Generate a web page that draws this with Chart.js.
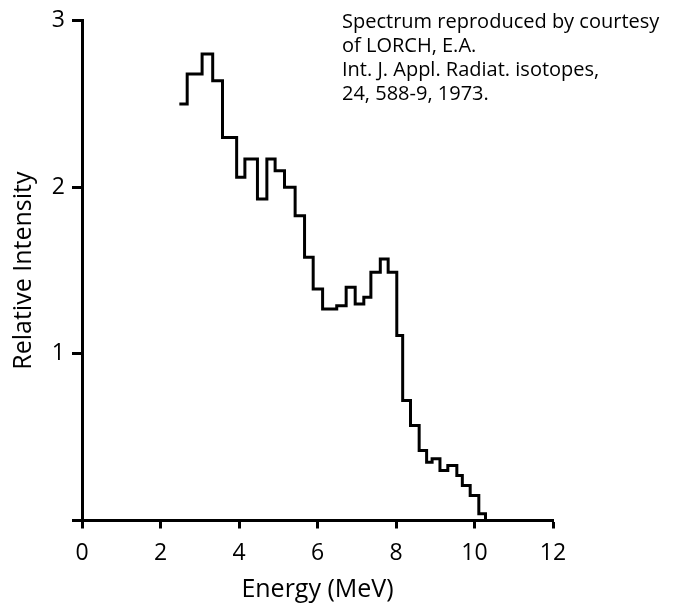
<!DOCTYPE html>
<html>
<head>
<meta charset="utf-8">
<script src="https://cdn.jsdelivr.net/npm/chart.js@4/dist/chart.umd.min.js"></script>
<style>
  body { margin: 0; background: #fff; }
  #wrap { width: 673px; height: 605px; }
</style>
</head>
<body>
<div id="wrap"><canvas id="spectrumChart" width="673" height="605"></canvas></div>
<script>
// bin edges (MeV) and relative intensity of each bin
const energyEdges = [2.48, 2.68, 3.06, 3.33, 3.58, 3.94, 4.15, 4.47, 4.71, 4.92,
                     5.16, 5.43, 5.67, 5.89, 6.13, 6.49, 6.73, 6.96, 7.18, 7.36,
                     7.60, 7.80, 8.02, 8.17, 8.37, 8.59, 8.78, 8.92, 9.12, 9.32,
                     9.55, 9.69, 9.89, 10.11, 10.28];
const intensity = [2.50, 2.68, 2.80, 2.64, 2.30, 2.06, 2.17, 1.93, 2.17, 2.10,
                   2.00, 1.83, 1.58, 1.39, 1.27, 1.29, 1.40, 1.30, 1.34, 1.49,
                   1.57, 1.49, 1.11, 0.72, 0.57, 0.42, 0.35, 0.37, 0.30, 0.33,
                   0.27, 0.21, 0.15, 0.04];
const xTicks = [0, 2, 4, 6, 8, 10, 12];
const yTicks = [0, 1, 2, 3];
const noteLines = [
    "Spectrum reproduced by courtesy",
    "of LORCH, E.A.",
    "Int. J. Appl. Radiat. isotopes,",
    "24, 588-9, 1973."
];

const FONT = "'Open Sans', 'Noto Sans', sans-serif";

// last edge closes the histogram back down to zero
const points = energyEdges.map((e, i) => ({ x: e, y: i < intensity.length ? intensity[i] : 0 }));

const notePlugin = {
    id: "note",
    afterDraw(chart) {
        const ctx = chart.ctx;
        ctx.save();
        ctx.fillStyle = "#000";
        ctx.font = "20px " + FONT;
        ctx.textBaseline = "middle";
        noteLines.forEach((t, i) => ctx.fillText(t, 342, 22 + i * 24));
        ctx.restore();
    }
};

new Chart(document.getElementById("spectrumChart").getContext("2d"), {
    type: "line",
    data: {
        datasets: [{
            data: points,
            borderColor: "#000",
            borderWidth: 3,
            pointRadius: 0,
            stepped: "before",
            fill: false
        }]
    },
    options: {
        responsive: false,
        animation: false,
        layout: { padding: { left: 0, right: 120, top: 16, bottom: 0 } },
        plugins: { legend: { display: false }, tooltip: { enabled: false } },
        scales: {
            x: {
                type: "linear",
                min: 0, max: 12,
                afterBuildTicks: s => { s.ticks = xTicks.map(v => ({ value: v })); },
                afterFit: s => { s.height = 84.5; },
                grid: { drawOnChartArea: false, tickLength: 8, tickWidth: 3, tickColor: "#000" },
                border: { color: "#000", width: 3 },
                ticks: { color: "#000", font: { family: FONT, size: 23 }, padding: 11, maxRotation: 0 },
                title: { display: true, text: "Energy (MeV)", color: "#000", font: { family: FONT, size: 25 }, padding: { top: 2, bottom: 0 } }
            },
            y: {
                min: 0, max: 3,
                afterBuildTicks: s => { s.ticks = yTicks.map(v => ({ value: v })); },
                afterFit: s => { s.width = 82; },
                grid: { drawOnChartArea: false, tickLength: 10, tickWidth: 3, tickColor: "#000" },
                border: { color: "#000", width: 3 },
                ticks: { color: "#000", font: { family: FONT, size: 23 }, padding: 7, callback: v => v === 0 ? "" : v },
                title: { display: true, text: "Relative Intensity", color: "#000", font: { family: FONT, size: 25 }, padding: { top: 9, bottom: 0 } }
            }
        }
    },
    plugins: [notePlugin]
});
</script>
</body>
</html>
